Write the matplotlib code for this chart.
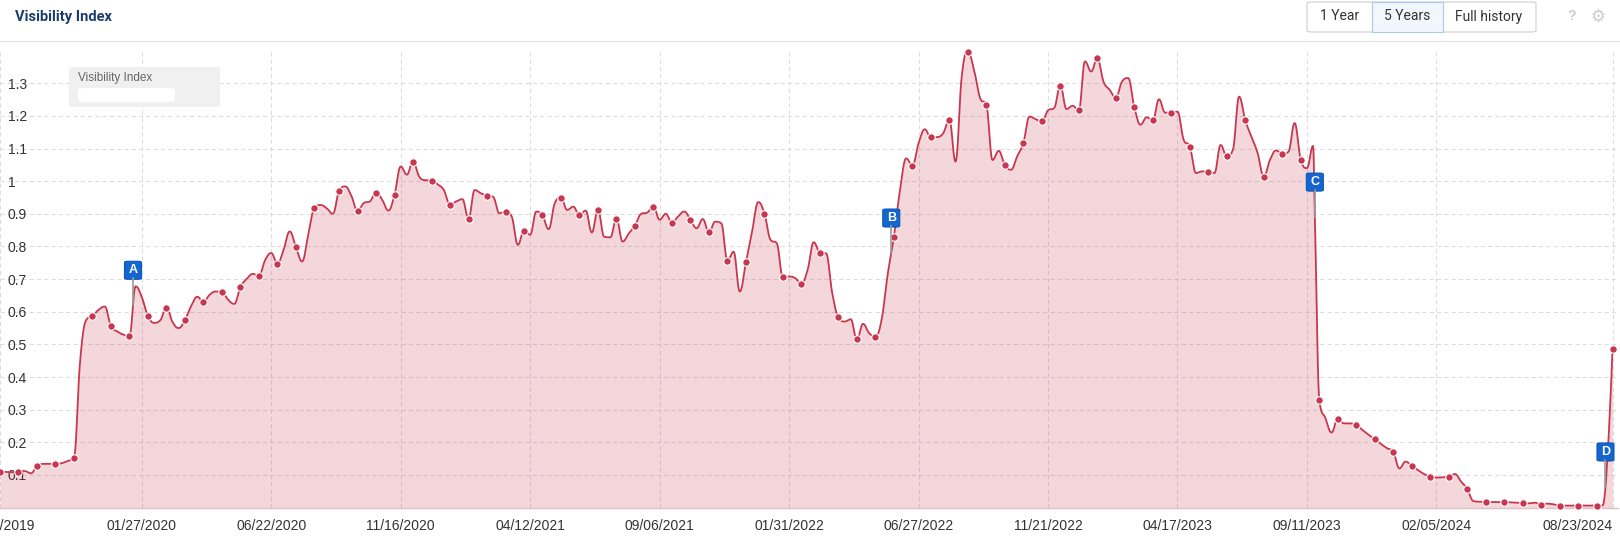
import numpy as np
import pandas as pd
import matplotlib
matplotlib.use("Agg")
import matplotlib.pyplot as plt
import matplotlib.dates as mdates
from matplotlib.patches import FancyBboxPatch
from matplotlib.lines import Line2D

plt.rcParams['font.family'] = ['Liberation Sans', 'DejaVu Sans']

W, H = 1620, 547

# weekly visibility index, one value per Monday starting 2019-08-19
week_start = "2019-08-19"
weekly_values = [
    0.110, 0.109, 0.108, 0.110, 0.112, 0.105, 0.126, 0.134, 0.134, 0.134,
    0.136, 0.143, 0.153, 0.450, 0.575, 0.587, 0.606, 0.616, 0.555, 0.540,
    0.530, 0.526, 0.678, 0.645, 0.587, 0.566, 0.574, 0.613, 0.568, 0.550,
    0.575, 0.617, 0.646, 0.630, 0.652, 0.662, 0.661, 0.637, 0.624, 0.676,
    0.700, 0.716, 0.710, 0.758, 0.780, 0.747, 0.790, 0.846, 0.799, 0.754,
    0.835, 0.918, 0.927, 0.917, 0.900, 0.970, 0.984, 0.955, 0.909, 0.933,
    0.938, 0.965, 0.943, 0.910, 0.959, 1.045, 1.020, 1.060, 1.014, 1.003,
    1.002, 0.990, 0.973, 0.928, 0.938, 0.945, 0.885, 0.973, 0.963, 0.956,
    0.952, 0.902, 0.907, 0.892, 0.805, 0.848, 0.836, 0.907, 0.895, 0.853,
    0.933, 0.950, 0.912, 0.922, 0.895, 0.910, 0.843, 0.912, 0.830, 0.828,
    0.885, 0.815, 0.840, 0.864, 0.900, 0.904, 0.922, 0.882, 0.900, 0.873,
    0.892, 0.907, 0.882, 0.856, 0.884, 0.843, 0.876, 0.871, 0.757, 0.784,
    0.662, 0.751, 0.846, 0.936, 0.901, 0.820, 0.810, 0.705, 0.708, 0.703,
    0.686, 0.728, 0.813, 0.781, 0.779, 0.657, 0.583, 0.570, 0.577, 0.515,
    0.563, 0.534, 0.524, 0.575, 0.715, 0.830, 0.973, 1.070, 1.048, 1.116,
    1.159, 1.134, 1.135, 1.147, 1.188, 1.060, 1.320, 1.397, 1.341, 1.254,
    1.234, 1.065, 1.093, 1.050, 1.035, 1.076, 1.117, 1.198, 1.190, 1.183,
    1.217, 1.224, 1.293, 1.221, 1.231, 1.217, 1.367, 1.336, 1.376, 1.305,
    1.280, 1.255, 1.305, 1.316, 1.226, 1.173, 1.196, 1.186, 1.251, 1.210,
    1.210, 1.213, 1.127, 1.106, 1.025, 1.030, 1.029, 1.025, 1.111, 1.076,
    1.097, 1.259, 1.186, 1.137, 1.086, 1.014, 1.065, 1.094, 1.084, 1.090,
    1.178, 1.066, 1.040, 1.108, 0.330, 0.274, 0.230, 0.272, 0.258, 0.258,
    0.253, 0.238, 0.223, 0.210, 0.195, 0.182, 0.171, 0.120, 0.141, 0.128,
    0.115, 0.103, 0.095, 0.092, 0.093, 0.094, 0.103, 0.080, 0.057, 0.020,
    0.018, 0.017, 0.017, 0.017, 0.017, 0.016, 0.015, 0.014, 0.013, 0.015,
    0.009, 0.012, 0.010, 0.006, 0.006, 0.006, 0.006, 0.006, 0.006, 0.006,
    0.007,
]
# in-between values (no marker)
extra_dates = ["2023-09-20", "2024-08-23"]
extra_values = [0.890, 0.486]
marker_weeks = list(range(0, 52, 3)) + list(range(55, 261, 3))

flag_labels = ["A", "B", "C", "D"]
flag_dates = ["2020-01-17", "2022-05-27", "2023-09-20", "2024-08-15"]

xtick_dates = ["2019-08-19", "2020-01-27", "2020-06-22", "2020-11-16",
               "2021-04-12", "2021-09-06", "2022-01-31", "2022-06-27",
               "2022-11-21", "2023-04-17", "2023-09-11", "2024-02-05",
               "2024-08-23"]
ytick_values = [0.1, 0.2, 0.3, 0.4, 0.5, 0.6, 0.7, 0.8, 0.9, 1.0, 1.1, 1.2, 1.3]

LINE = "#c8374f"
GRID = "#dcdcdc"


def hc_spline(x, y, smoothing=1.5, steps=16):
    """spline like highcharts draws it"""
    x = np.asarray(x, float)
    y = np.asarray(y, float)
    lcx, lcy, rcx, rcy = x.copy(), y.copy(), x.copy(), y.copy()
    d = smoothing + 1
    for i in range(1, len(x) - 1):
        lx = (smoothing * x[i] + x[i - 1]) / d
        ly = (smoothing * y[i] + y[i - 1]) / d
        rx = (smoothing * x[i] + x[i + 1]) / d
        ry = (smoothing * y[i] + y[i + 1]) / d
        corr = (ry - ly) * (rx - x[i]) / (rx - lx) + y[i] - ry
        ly += corr
        ry += corr
        if ly > y[i - 1] and ly > y[i]:
            ly = max(y[i - 1], y[i]); ry = 2 * y[i] - ly
        elif ly < y[i - 1] and ly < y[i]:
            ly = min(y[i - 1], y[i]); ry = 2 * y[i] - ly
        if ry > y[i + 1] and ry > y[i]:
            ry = max(y[i + 1], y[i]); ly = 2 * y[i] - ry
        elif ry < y[i + 1] and ry < y[i]:
            ry = min(y[i + 1], y[i]); ly = 2 * y[i] - ry
        lcx[i], lcy[i], rcx[i], rcy[i] = lx, ly, rx, ry
    t = np.linspace(0, 1, steps, endpoint=False)[:, None]
    a, b, c, e = (1 - t) ** 3, 3 * (1 - t) ** 2 * t, 3 * (1 - t) * t ** 2, t ** 3
    cx = a * x[:-1] + b * rcx[:-1] + c * lcx[1:] + e * x[1:]
    cy = a * y[:-1] + b * rcy[:-1] + c * lcy[1:] + e * y[1:]
    cx = np.append(cx.T.ravel(), x[-1])
    cy = np.append(cy.T.ravel(), y[-1])
    return cx, cy


week_dates = pd.date_range(week_start, periods=len(weekly_values), freq="7D")
wx = mdates.date2num(week_dates)
wy = np.array(weekly_values)
ex = mdates.date2num(pd.to_datetime(extra_dates))
xs = np.concatenate([wx, ex])
ys = np.concatenate([wy, extra_values])
order = np.argsort(xs)
xs, ys = xs[order], ys[order]
cx, cy = hc_spline(xs, ys)

fig = plt.figure(figsize=(W / 100, H / 100), dpi=100)
ax = fig.add_axes([0, 1 - 507.6 / H, 1618 / W, (507.6 - 51.7) / H])

x0 = mdates.date2num(pd.Timestamp(week_start))
ax.set_xlim(x0, x0 + 1618 / 0.88068)
ax.set_ylim(0, 1.3967)

ax.fill_between(cx, cy, 0, color=LINE, alpha=0.2, lw=0, zorder=2)
ax.plot(cx, cy, color=LINE, lw=1.3, zorder=3)
mx = np.append(wx[marker_weeks], ex[-1])
my = np.append(wy[marker_weeks], extra_values[-1])
ax.plot(mx, my, "o", ms=5.4, mfc=LINE, mec="white", mew=0.8, zorder=4,
        clip_on=False)

# grid
ax.set_yticks(ytick_values)
ax.set_yticklabels([f"{v:g}" for v in ytick_values])
xt = mdates.date2num(pd.to_datetime(xtick_dates))
ax.set_xticks(xt)
ax.set_xticklabels(pd.to_datetime(xtick_dates).strftime("%m/%d/%Y"))
ax.grid(True, color=GRID, lw=0.75, ls=(0, (4, 3)), zorder=0)
ax.set_axisbelow(True)
ax.tick_params(axis="y", length=0, pad=-5.5, labelsize=10, labelcolor="#333333")
ax.tick_params(axis="x", length=0, pad=8, labelsize=10, labelcolor="#333333")
for lab in ax.get_yticklabels():
    lab.set_horizontalalignment("left")
ax.get_xticklabels()[-1].set_horizontalalignment("right")
for s in ["top", "left", "right"]:
    ax.spines[s].set_visible(False)
ax.spines["bottom"].set_color("#dcc0c6")
ax.spines["bottom"].set_linewidth(1.0)

# flags
fx = mdates.date2num(pd.to_datetime(flag_dates))
fy = np.interp(fx, cx, cy)
for lab, x, y in zip(flag_labels, fx, fy):
    px, py = ax.transData.transform((x, y))
    fig.add_artist(Line2D([px / W, px / W], [py / H, (py + 27) / H],
                          color="#9a9a9a", lw=1.2, transform=fig.transFigure))
    fig.add_artist(FancyBboxPatch(((px - 8.5) / W, (py + 26) / H), 17 / W, 18 / H,
                                  boxstyle="round,pad=0,rounding_size=0.002",
                                  fc="#1565cf", ec="#0d58bd", lw=0.8,
                                  transform=fig.transFigure))
    fig.text(px / W, (py + 35) / H, lab, color="white", fontsize=9,
             fontweight="bold", ha="center", va="center")

def fx_(x):
    return x / W

def fy_(y):
    return 1 - y / H

# header
fig.add_artist(Line2D([0, 1], [fy_(41), fy_(41)], color="#e6e6e6", lw=1))
fig.text(fx_(15), fy_(17), "Visibility Index", fontsize=10.5, fontweight="bold",
         color="#1d3c6e", family="Roboto", va="center", ha="left")

# range buttons
fig.add_artist(FancyBboxPatch((fx_(1307), fy_(32)), fx_(229), 30 / H,
                              boxstyle="round,pad=0,rounding_size=0.003",
                              fc="white", ec="#cfcfcf", lw=0.8))
fig.add_artist(FancyBboxPatch((fx_(1372), fy_(32)), fx_(71), 30 / H,
                              boxstyle="square,pad=0", fc="#f2f7fe",
                              ec="#a9c9ef", lw=0.8))
for txt, cxp in [("1 Year", 1339.5), ("5 Years", 1407), ("Full history", 1489)]:
    fig.text(fx_(cxp), fy_(16.5), txt, fontsize=10, color="#333333",
             family="Roboto", ha="center", va="center")
fig.text(fx_(1572), fy_(16.5), "?", fontsize=10, fontweight="bold",
         color="#cccccc", ha="center", va="center")
fig.text(fx_(1598), fy_(16.5), "\u2699", fontsize=12, color="#cccccc",
         family="DejaVu Sans", ha="center", va="center")

# legend box
fig.add_artist(FancyBboxPatch((fx_(69), fy_(107)), fx_(151), 40 / H,
                              boxstyle="round,pad=0,rounding_size=0.003",
                              fc="#f0f0f0", ec="none"))
fig.text(fx_(78), fy_(78), "Visibility Index", fontsize=8.5, color="#666666",
         ha="left", va="center")
fig.add_artist(FancyBboxPatch((fx_(78), fy_(102)), fx_(97), 14 / H,
                              boxstyle="round,pad=0,rounding_size=0.004",
                              fc="white", ec="none"))

fig.savefig("out.png", dpi=100)
